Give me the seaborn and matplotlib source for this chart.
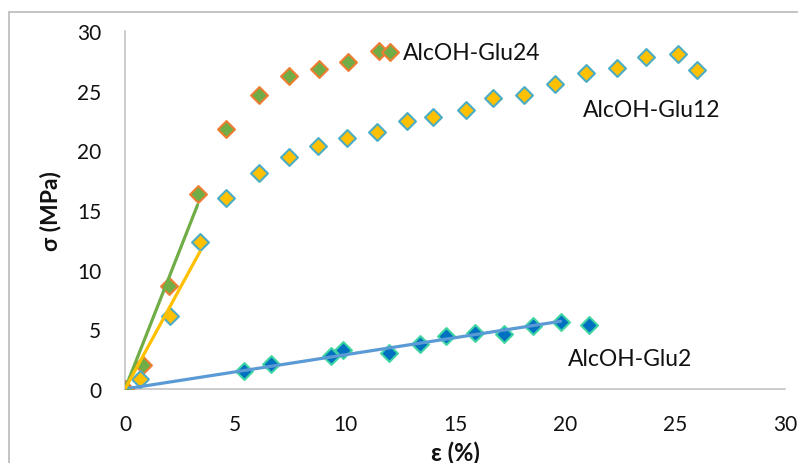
import numpy as np
import pandas as pd
import matplotlib
matplotlib.use("Agg")
import matplotlib.pyplot as plt
from matplotlib.lines import Line2D
import seaborn as sns

# Stress-strain data (strain in %, stress in MPa)
glu24_strain = [0, 0.8, 2.0, 3.3, 4.6, 6.1, 7.45, 8.8, 10.15, 11.55, 12.05]
glu24_stress = [0, 2.05, 8.6, 16.3, 21.75, 24.65, 26.2, 26.8, 27.4, 28.35, 28.2]

glu12_strain = [0.7, 2.05, 3.4, 4.6, 6.1, 7.45, 8.75, 10.1, 11.45, 12.8, 14.0,
                15.5, 16.75, 18.15, 19.55, 20.95, 22.35, 23.7, 25.15, 26.0]
glu12_stress = [0.85, 6.1, 12.3, 16.0, 18.1, 19.4, 20.35, 21.0, 21.55, 22.45, 22.8,
                23.4, 24.4, 24.65, 25.55, 26.45, 26.9, 27.8, 28.05, 26.75]

glu2_strain = [0, 5.4, 6.65, 9.35, 9.9, 12.0, 13.4, 14.6, 15.9, 17.25, 18.55, 19.8, 21.1]
glu2_stress = [0, 1.5, 2.1, 2.75, 3.25, 3.05, 3.8, 4.45, 4.7, 4.65, 5.3, 5.6, 5.35]

# number of leading points used for the linear (elastic) fit through the origin
glu24_fit_n = 4
glu12_fit_n = 3
glu2_fit_n = 12

series_labels = ["AlcOH-Glu24", "AlcOH-Glu12", "AlcOH-Glu2"]
x_ticks = [0, 5, 10, 15, 20, 25, 30]
y_ticks = [0, 5, 10, 15, 20, 25, 30]

sns.set_theme(style="white")
plt.rcParams["font.family"] = ["Lato", "DejaVu Sans"]

fig = plt.figure(figsize=(7.98, 4.64), dpi=100)
ax = fig.add_axes([125 / 798, 74 / 464, 660 / 798, 358 / 464])

grey = "#BFBFBF"
msize = 74


def scatter(xs, ys, face, edge, z):
    df = pd.DataFrame({"strain": xs, "stress": ys})
    sns.scatterplot(data=df, x="strain", y="stress", marker="D", s=msize,
                    color=face, edgecolor=edge, linewidth=1.5, ax=ax,
                    zorder=z, legend=False)


def trendline(xs, ys, n, color):
    x = np.asarray(xs[:n], float)
    y = np.asarray(ys[:n], float)
    slope = np.sum(x * y) / np.sum(x * x)
    xe = np.array([0.0, x.max()])
    df = pd.DataFrame({"strain": xe, "stress": slope * xe})
    sns.lineplot(data=df, x="strain", y="stress", color=color, linewidth=2.3,
                 ax=ax, zorder=10, legend=False)


scatter(glu2_strain, glu2_stress, "#0070C0", "#3FD6A3", 3)
scatter(glu24_strain, glu24_stress, "#70AD47", "#ED7D31", 4)
scatter(glu12_strain, glu12_stress, "#FFC000", "#4BACC6", 5)

trendline(glu2_strain, glu2_stress, glu2_fit_n, "#5B9BD5")
trendline(glu24_strain, glu24_stress, glu24_fit_n, "#70AD47")
trendline(glu12_strain, glu12_stress, glu12_fit_n, "#FFC000")

# series names placed beside their curves
ax.text(12.65, 28.2, series_labels[0], fontsize=16.5, va="center", ha="left", color="#111111")
ax.text(20.8, 23.45, series_labels[1], fontsize=16.5, va="center", ha="left", color="#111111")
ax.text(20.15, 2.55, series_labels[2], fontsize=16.5, va="center", ha="left", color="#111111")

ax.set_xlim(0, 30)
ax.set_ylim(0, 30)
ax.set_xticks(x_ticks)
ax.set_yticks(y_ticks)
ax.set_xticklabels([str(t) for t in x_ticks])
ax.set_yticklabels([str(t) for t in y_ticks])
ax.tick_params(axis="both", length=0, labelsize=15, labelcolor="#111111")
ax.tick_params(axis="x", pad=18)
ax.tick_params(axis="y", pad=17)

ax.set_xlabel("ε (%)", fontsize=17, fontweight="bold", color="#111111")
ax.set_ylabel("σ (MPa)", fontsize=16.5, fontweight="bold", color="#111111")
ax.xaxis.set_label_coords(0.5, -0.145)
ax.yaxis.set_label_coords(-0.097, 0.5)

for side in ["top", "right"]:
    ax.spines[side].set_visible(False)
for side in ["left", "bottom"]:
    ax.spines[side].set_color(grey)
    ax.spines[side].set_linewidth(1.1)

# chart-area frame (left and top edges)
fx = 9 / 798
fy = 1 - 13 / 464
fig.add_artist(Line2D([fx, fx], [0, fy], transform=fig.transFigure, color=grey, lw=1.3))
fig.add_artist(Line2D([fx, 1], [fy, fy], transform=fig.transFigure, color=grey, lw=1.3))

fig.savefig("out.png", dpi=100)
